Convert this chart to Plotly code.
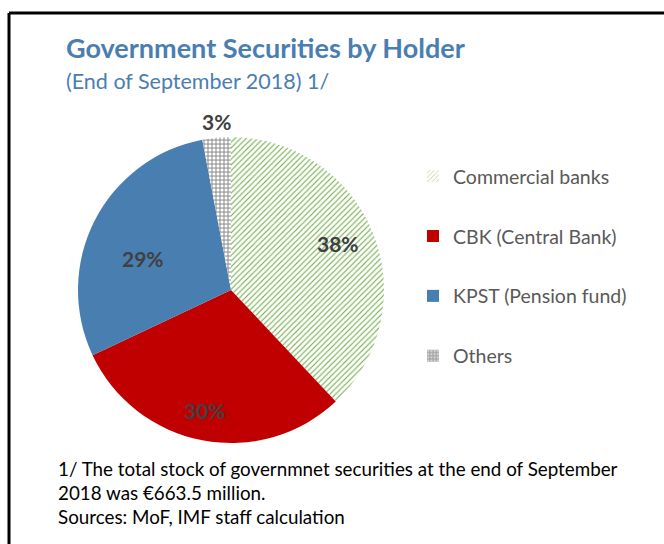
import plotly.graph_objects as go

# Holders of government securities, share of total stock (%)
holders = ["Commercial banks", "CBK (Central Bank)", "KPST (Pension fund)", "Others"]
shares = [38, 30, 29, 3]

W, H = 664, 544
FONT = "Lato"

# pie geometry in pixels
cx, cy, r = 231, 290, 153

colors = ["white", "#C00000", "#497EB0", "#A6A6A6"]
pat_shape = ["/", "", "", "."]
pat_fg = ["#70AD47", "#C00000", "#497EB0", "white"]
pat_size = [4, 8, 8, 4]
pat_solid = [0.28, 0.3, 0.3, 0.45]

fig = go.Figure()
fig.add_trace(go.Pie(
    labels=holders,
    values=shares,
    sort=False,
    direction="clockwise",
    rotation=0,
    textinfo="none",
    hoverinfo="label+percent",
    showlegend=False,
    marker=dict(colors=colors,
                pattern=dict(shape=pat_shape, fgcolor=pat_fg, bgcolor=colors,
                             size=pat_size, solidity=pat_solid),
                line=dict(width=0)),
    domain=dict(x=[(cx - r) / W, (cx + r) / W],
                y=[1 - (cy + r) / H, 1 - (cy - r) / H]),
))

# legend entries drawn as empty bar traces so each can sit in its own group
for i, name in enumerate(holders):
    fig.add_trace(go.Bar(
        x=[None], y=[None], name=name, legendgroup=name,
        marker=dict(color=colors[i],
                    pattern=dict(shape=pat_shape[i], fgcolor=pat_fg[i],
                                 bgcolor=colors[i], size=pat_size[i],
                                 solidity=pat_solid[i]),
                    line=dict(width=0)),
    ))

def px(x, y):
    return x / W, 1 - y / H

annotations = []
# percentage labels, one per slice
label_pos = [(338, 244), (205, 410), (143, 258), (216, 122)]
total = sum(shares)
for val, (lx, ly) in zip(shares, label_pos):
    x, y = px(lx, ly)
    annotations.append(dict(
        x=x, y=y, xref="paper", yref="paper", showarrow=False,
        text=f"<b>{round(val / total * 100)}%</b>",
        font=dict(family=FONT, size=21, color="#404040"),
        xanchor="center", yanchor="middle",
    ))

x, y = px(64, 47)
annotations.append(dict(
    x=x, y=y, xref="paper", yref="paper", showarrow=False,
    text="<b>Government Securities by Holder</b>",
    font=dict(family=FONT, size=27, color="#4A7EB0"),
    xanchor="left", yanchor="middle",
))
x, y = px(64, 81)
annotations.append(dict(
    x=x, y=y, xref="paper", yref="paper", showarrow=False,
    text="(End of September 2018) 1/",
    font=dict(family=FONT, size=21.5, color="#4A7EB0"),
    xanchor="left", yanchor="middle",
))

notes = [
    "1/ The total stock of governmnet securities at the end of September",
    "2018 was €663.5 million.",
    "Sources: MoF, IMF staff calculation",
]
for i, line in enumerate(notes):
    x, y = px(56, 468 + i * 24)
    annotations.append(dict(
        x=x, y=y, xref="paper", yref="paper", showarrow=False,
        text=line, font=dict(family=FONT, size=18.8, color="black"),
        xanchor="left", yanchor="middle",
    ))

# frame: top and left edges
shapes = [
    dict(type="line", xref="paper", yref="paper",
         x0=9 / W, x1=1, y0=1 - 13 / H, y1=1 - 13 / H,
         line=dict(color="black", width=3)),
    dict(type="line", xref="paper", yref="paper",
         x0=9 / W, x1=9 / W, y0=1 - 13 / H, y1=0,
         line=dict(color="black", width=3)),
]

lx, ly = px(413, 157)
fig.update_layout(
    width=W, height=H,
    margin=dict(l=0, r=0, t=0, b=0),
    paper_bgcolor="white", plot_bgcolor="white",
    xaxis=dict(visible=False), yaxis=dict(visible=False),
    annotations=annotations, shapes=shapes,
    legend=dict(x=lx, y=ly, xanchor="left", yanchor="top",
                font=dict(family=FONT, size=19.5, color="#595959"),
                tracegroupgap=31.5, itemwidth=30, bgcolor="rgba(0,0,0,0)"),
)

fig.write_html("out.html")
